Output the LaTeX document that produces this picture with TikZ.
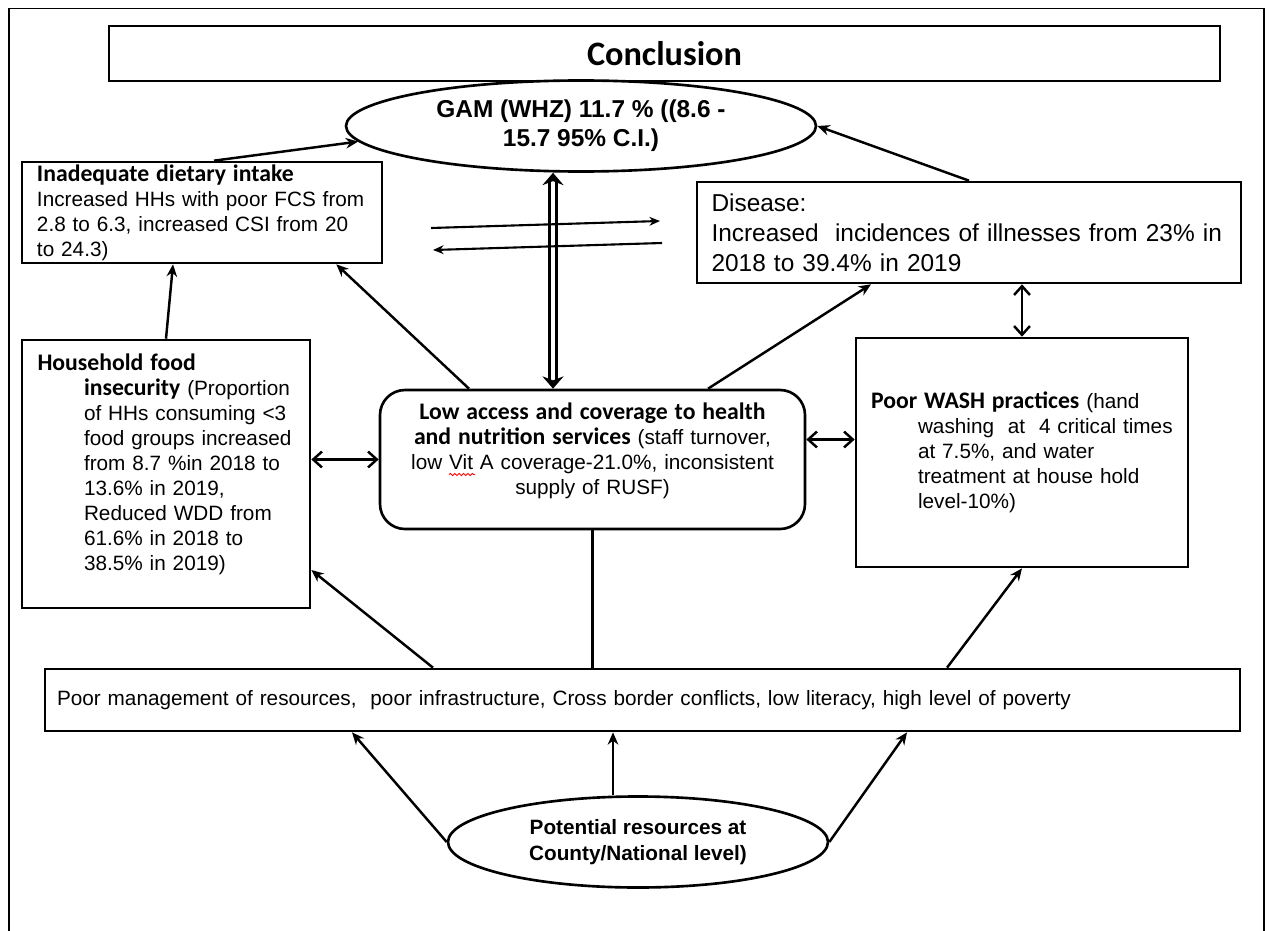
\documentclass[tikz,border=0pt]{standalone}
\usepackage{fontspec}
\setmainfont{Liberation Sans}
\newfontfamily\calibri{Carlito}
\usepackage{tikz}
\usetikzlibrary{shapes.geometric,arrows.meta,calc,decorations.pathmorphing}

\newcommand{\hd}[1]{{\calibri\bfseries\fontsize{13.5pt}{14.2pt}\selectfont #1}}
\newcommand{\lift}[1]{\rule[-#1]{0pt}{#1}}

\begin{document}
\begin{tikzpicture}[
    box/.style={draw, line width=1.5pt, inner xsep=0.3cm, inner ysep=1pt, align=left,
      font=\fontsize{11.8pt}{14.2pt}\selectfont},
    oval/.style={draw, ellipse, line width=1.5pt, inner sep=0pt, align=center},
    cause/.style={line width=1.4pt, -{Stealth[length=7pt,width=6pt]}},
    both/.style={line width=1.4pt, {Straight Barb[length=5pt,width=9pt]}-{Straight Barb[length=5pt,width=9pt]}},
    dbl/.style={double, double distance=2.6pt, line width=1.4pt, {Stealth[length=7pt,width=12pt]}-{Stealth[length=7pt,width=12pt]}},
    flow/.style={line width=1.2pt, -{Stealth[length=6pt,width=5pt]}}]
  \useasboundingbox (0,0) rectangle (25.4,-18.62);
  \draw[line width=0.8pt] (0.18,-18.62) -- (0.18,-0.17) -- (25.28,-0.17) -- (25.28,-18.62);

  % boxes
  \node[box, align=center, minimum width=22.22cm, minimum height=1.1cm,
    font=\calibri\bfseries\fontsize{19.5pt}{22pt}\selectfont] (concl) at (13.29,-1.07) {Conclusion};
  \node[oval, minimum width=9.4cm, minimum height=1.82cm,
    font=\bfseries\fontsize{13.9pt}{16.4pt}\selectfont] (gam) at (11.62,-2.52)
    {GAM (WHZ) 11.7 \% ((8.6 -\\15.7 95\% C.I.)};
  \node[box, text width=6.6cm, minimum height=2.02cm] (diet) at (4.04,-4.25)
    {\hd{Inadequate dietary intake}\\Increased HHs with poor FCS from\\2.8 to 6.3, increased CSI from 20\\to 24.3)};
  \node[box, text width=10.3cm, inner xsep=0.29cm, minimum height=2.02cm,
    font=\fontsize{13.9pt}{17pt}\selectfont] (disease) at (19.38,-4.65)
    {Disease:\\Increased\ \ incidences of illnesses from 23\% in\\2018 to 39.4\% in 2019};
  \node[box, text width=5.46cm, inner xsep=0.15cm, minimum height=5.36cm] (hhfood) at (3.32,-9.48)
    {\leftskip=1.09cm\hspace*{-0.93cm}\hd{Household food}\\\hd{insecurity} (Proportion\\of HHs consuming <3\\food groups increased\\from 8.7 \%in 2018 to\\13.6\% in 2019,\\Reduced WDD from\\61.6\% in 2018 to\\38.5\% in 2019)\lift{13.5pt}\par};
  \node[box, rounded corners=0.5cm, align=center, text width=8.1cm, inner xsep=0.2cm,
    minimum height=2.78cm] (access) at (11.85,-9.19)
    {\hd{Low access and coverage to health}\\\hd{and nutrition services} (staff turnover,\\low Vit A coverage-21.0\%, inconsistent\\supply of RUSF)\lift{12pt}};
  \node[box, text width=6.34cm, inner xsep=0.15cm, minimum height=4.58cm] (wash) at (20.44,-9.05)
    {\leftskip=1.09cm\hspace*{-0.94cm}\hd{Poor WASH practices} (hand\\washing\ \ at\ \ 4 critical times\\at 7.5\%, and water\\treatment at house hold\\level-10\%)\par};
  \node[box, text width=23.42cm, inner xsep=0.24cm, minimum height=1.24cm] (mgmt) at (12.85,-14.0)
    {Poor management of resources,\ \ poor infrastructure, Cross border conflicts, low literacy, high level of poverty};
  \node[oval, minimum width=7.6cm, minimum height=1.82cm,
    font=\bfseries\fontsize{11.8pt}{14.9pt}\selectfont] (potential) at (12.76,-16.84)
    {Potential resources at\\County/National level)};

  % spell-check mark under Vit
  \draw[red, line width=0.5pt, decorate, decoration={snake, amplitude=0.6pt, segment length=2.5pt}]
    ([shift={(-2.87,-0.3)}]access.center) -- ([shift={(-2.35,-0.3)}]access.center);

  % arrows into GAM
  \draw[cause] ([xshift=0.24cm]diet.north) -- (gam.184);
  \draw[cause] (disease.north) -- (gam.east);
  \draw[dbl] ([xshift=-0.56cm]gam.south) -- ([xshift=-0.56cm]gam.south |- access.north);

  % diet <-> disease
  \coordinate (fwdA) at (8.62,-4.56);
  \coordinate (fwdB) at (13.2,-4.42);
  \coordinate (bckA) at (13.24,-4.86);
  \coordinate (bckB) at (8.66,-5.0);
  \draw[flow] (fwdA) -- (fwdB);
  \draw[flow] (bckA) -- (bckB);

  % middle row
  \draw[cause] (hhfood.north) -- ([xshift=-0.58cm]diet.south);
  \draw[cause] ([xshift=-2.47cm]access.north) -- ([xshift=-0.94cm]diet.south east);
  \draw[cause] ([xshift=2.31cm]access.north) -- ([xshift=-1.96cm]disease.south);
  \draw[both] (access.west -| hhfood.east) -- (access.west);
  \draw[both] ([yshift=0.4cm]access.east) -- ([yshift=0.4cm]access.east -| wash.west);
  \draw[both] (wash.north |- disease.south) -- (wash.north);

  % underlying causes
  \draw[cause] ([xshift=-4.19cm]mgmt.north) -- ([yshift=-1.92cm]hhfood.east);
  \draw[line width=1.4pt] (access.south) -- (access.south |- mgmt.north);
  \draw[cause] ([xshift=6.09cm]mgmt.north) -- (wash.south);

  % basic causes
  \draw[cause] (potential.west) -- ([xshift=-5.81cm]mgmt.south);
  \draw[cause] ([xshift=-0.5cm]potential.north) -- ([xshift=-0.5cm]potential.north |- mgmt.south);
  \draw[cause] (potential.east) -- ([xshift=5.29cm]mgmt.south);
\end{tikzpicture}
\end{document}
